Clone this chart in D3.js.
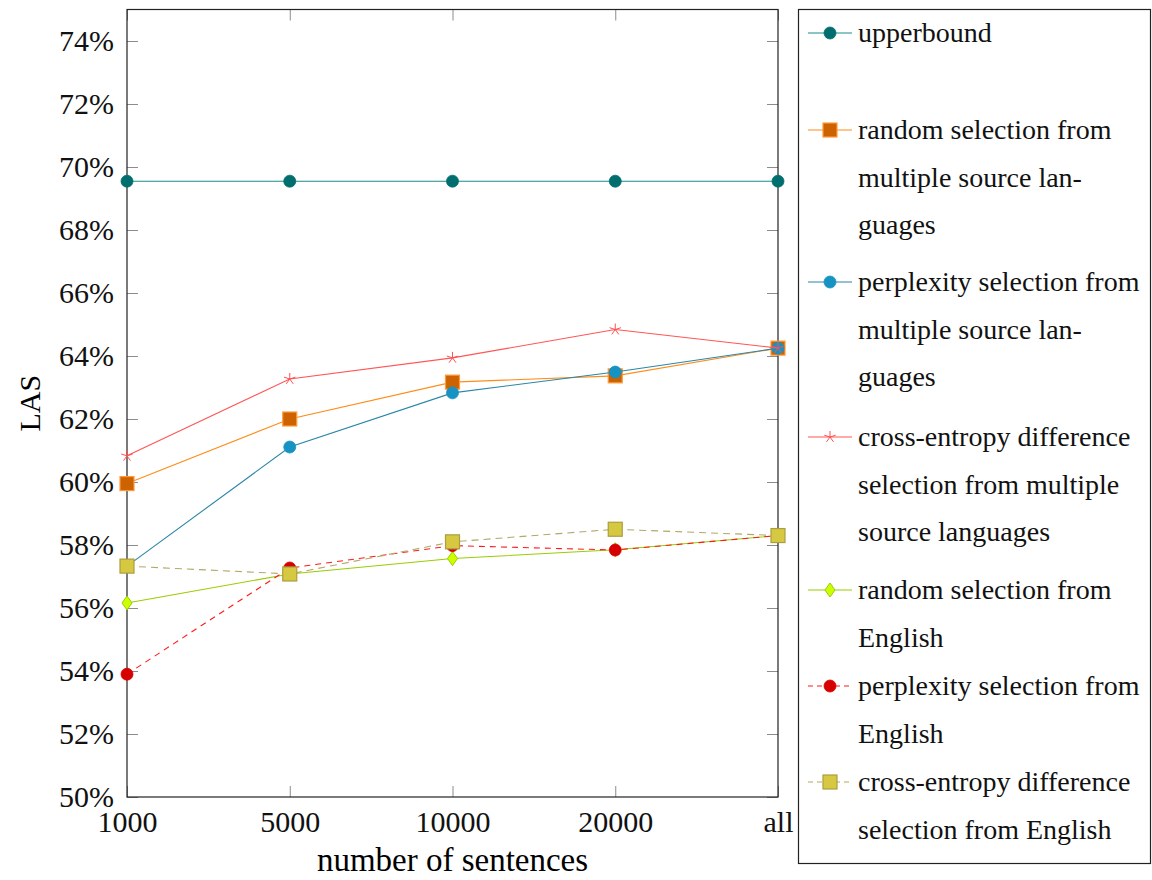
<!DOCTYPE html>
<html>
<head>
<meta charset="utf-8">
<script src="https://cdn.jsdelivr.net/npm/d3@7"></script>
<style>
  html, body { margin: 0; padding: 0; background: #fff; }
  svg { display: block; font-family: "Liberation Serif", "DejaVu Serif", serif; }
</style>
</head>
<body>
<svg id="chart" width="1152" height="880"></svg>
<script>
// Training set size (x categories)
const categories = ["1000", "5000", "10000", "20000", "all"];

// LAS (%) per selection strategy
const upperbound        = [69.55, 69.55, 69.55, 69.55, 69.55];
const randomMulti       = [59.95, 62.00, 63.17, 63.37, 64.25];
const perplexityMulti   = [57.33, 61.11, 62.83, 63.49, 64.25];
const crossEntropyMulti = [60.83, 63.27, 63.94, 64.84, 64.25];
const randomEnglish     = [56.16, 57.08, 57.57, 57.85, 58.30];
const perplexityEnglish = [53.90, 57.27, 57.98, 57.84, 58.30];
const crossEntropyEnglish = [57.33, 57.08, 58.10, 58.50, 58.30];

// Y axis ticks
const yTicks = [50, 52, 54, 56, 58, 60, 62, 64, 66, 68, 70, 72, 74];

// Legend labels, one array of text lines per series
const legendLines = [
  ["upperbound", ""],
  ["random selection from", "multiple source lan-", "guages"],
  ["perplexity selection from", "multiple source lan-", "guages"],
  ["cross-entropy difference", "selection from multiple", "source languages"],
  ["random selection from", "English"],
  ["perplexity selection from", "English"],
  ["cross-entropy difference", "selection from English"]
];

// Series styling
const series = [
  { values: upperbound,        line: "#1a8c8c", dash: null,  mark: "circle",  fill: "#006e6e", stroke: "#006e6e" },
  { values: randomMulti,       line: "#ff8c1a", dash: null,  mark: "square",  fill: "#cc6200", stroke: "#ff9a3a" },
  { values: perplexityMulti,   line: "#2a86a6", dash: null,  mark: "circle",  fill: "#1793c3", stroke: "#1793c3" },
  { values: crossEntropyMulti, line: "#ff5555", dash: null,  mark: "star",    fill: "none",    stroke: "#ff5050" },
  { values: randomEnglish,     line: "#9acd00", dash: null,  mark: "diamond", fill: "#ccff00", stroke: "#99cc00" },
  { values: perplexityEnglish, line: "#ff1a1a", dash: "6,5", mark: "circle",  fill: "#d60000", stroke: "#d60000" },
  { values: crossEntropyEnglish, line: "#b3a865", dash: "7,5", mark: "square", fill: "#d6c840", stroke: "#aa9e40" }
];

const svg = d3.select("#chart");
const plot = { left: 127, right: 778, top: 9.5, bottom: 797 };

const x = d3.scalePoint().domain(categories).range([plot.left, plot.right]).padding(0);
const y = d3.scaleLinear().domain([50, 75]).range([plot.bottom, plot.top]);

const tickColor = "#8c8c8c";
const tickLen = 11;

function styleAxis(g, showLabels) {
  g.attr("font-family", null).attr("font-size", null);
  g.select(".domain").remove();
  g.selectAll(".tick line").attr("stroke", tickColor).attr("stroke-width", 1);
  g.selectAll(".tick text")
    .attr("fill", "#111")
    .style("font-size", "30px")
    .style("display", showLabels ? null : "none");
}

// Axes with inward ticks on all four sides
svg.append("g")
  .attr("transform", `translate(${plot.left},0)`)
  .call(d3.axisLeft(y).tickValues(yTicks).tickSize(-tickLen).tickPadding(13).tickFormat(d => d + "%"))
  .call(g => styleAxis(g, true))
  .call(g => g.selectAll(".tick text").attr("dy", "0.3em"));

svg.append("g")
  .attr("transform", `translate(${plot.right},0)`)
  .call(d3.axisRight(y).tickValues(yTicks).tickSize(-tickLen))
  .call(g => styleAxis(g, false));

svg.append("g")
  .attr("transform", `translate(0,${plot.bottom})`)
  .call(d3.axisBottom(x).tickSize(-tickLen).tickPadding(12))
  .call(g => styleAxis(g, true))
  .call(g => g.selectAll(".tick text").attr("dy", "0.75em"));

svg.append("g")
  .attr("transform", `translate(0,${plot.top})`)
  .call(d3.axisTop(x).tickSize(-tickLen))
  .call(g => styleAxis(g, false));

// Frame
svg.append("rect")
  .attr("x", plot.left).attr("y", plot.top)
  .attr("width", plot.right - plot.left).attr("height", plot.bottom - plot.top)
  .attr("fill", "none").attr("stroke", "#222").attr("stroke-width", 1.2);

// Axis titles
svg.append("text")
  .attr("x", (plot.left + plot.right) / 2).attr("y", 871)
  .attr("text-anchor", "middle")
  .style("font-size", "33px")
  .text("number of sentences");

svg.append("text")
  .attr("transform", `translate(40,${(plot.top + plot.bottom) / 2}) rotate(-90)`)
  .attr("text-anchor", "middle")
  .style("font-size", "30px")
  .text("LAS");

// Marker shapes
function drawMark(g, s, cx, cy) {
  if (s.mark === "circle") {
    g.append("circle").attr("cx", cx).attr("cy", cy).attr("r", 6)
      .attr("fill", s.fill).attr("stroke", s.stroke).attr("stroke-width", 0.8);
  } else if (s.mark === "square") {
    g.append("rect").attr("x", cx - 7).attr("y", cy - 7).attr("width", 14).attr("height", 14)
      .attr("fill", s.fill).attr("stroke", s.stroke).attr("stroke-width", 1.2);
  } else if (s.mark === "diamond") {
    g.append("path")
      .attr("d", `M${cx},${cy - 7}L${cx + 5},${cy}L${cx},${cy + 7}L${cx - 5},${cy}Z`)
      .attr("fill", s.fill).attr("stroke", s.stroke).attr("stroke-width", 1);
  } else if (s.mark === "star") {
    const r = 6;
    let d = "";
    for (let k = 0; k < 5; k++) {
      const a = -Math.PI / 2 + k * 2 * Math.PI / 5;
      d += `M${cx},${cy}L${cx + r * Math.cos(a)},${cy + r * Math.sin(a)}`;
    }
    g.append("path").attr("d", d).attr("fill", "none")
      .attr("stroke", s.stroke).attr("stroke-width", 1);
  }
}

// Lines and markers
const lineGen = d3.line().x((d, i) => x(categories[i])).y(d => y(d));
series.forEach(s => {
  const g = svg.append("g");
  g.append("path")
    .attr("d", lineGen(s.values))
    .attr("fill", "none")
    .attr("stroke", s.line)
    .attr("stroke-width", 1.1)
    .attr("stroke-dasharray", s.dash);
  s.values.forEach((v, i) => drawMark(g, s, x(categories[i]), y(v)));
});

// Legend
const legend = { x: 798.5, y: 9.5, w: 352, h: 854 };
svg.append("rect")
  .attr("x", legend.x).attr("y", legend.y).attr("width", legend.w).attr("height", legend.h)
  .attr("fill", "#fff").attr("stroke", "#222").attr("stroke-width", 1.2);

const entryTops = [33, 130, 282, 437, 590, 686, 782];
const lineStep = 47.5;
legendLines.forEach((lines, i) => {
  const s = series[i];
  const g = svg.append("g");
  const cy = entryTops[i];
  g.append("line")
    .attr("x1", 808).attr("x2", 852).attr("y1", cy).attr("y2", cy)
    .attr("stroke", s.line).attr("stroke-width", 1.1)
    .attr("stroke-dasharray", s.dash ? "5,4" : null);
  drawMark(g, s, 830, cy);
  lines.forEach((t, j) => {
    g.append("text")
      .attr("x", 858).attr("y", cy + j * lineStep)
      .attr("dy", "0.33em")
      .style("font-size", "28px")
      .attr("fill", "#111")
      .text(t);
  });
});
</script>
</body>
</html>
